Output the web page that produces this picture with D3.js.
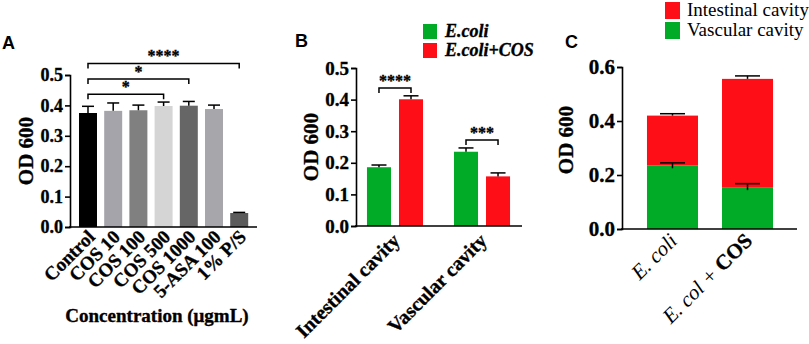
<!DOCTYPE html>
<html>
<head>
<meta charset="utf-8">
<script src="https://cdn.jsdelivr.net/npm/d3@7"></script>
<style>
  body { margin: 0; background: #fff; }
  svg { display: block; }
</style>
</head>
<body>
<div id="chart"></div>
<script>
// ---- DATA ----
// panel A
var catsA = ["Control", "COS 10", "COS 100", "COS 500", "COS 1000", "5-ASA 100", "1% P/S"]
var meanA = [0.375, 0.382, 0.384, 0.398, 0.399, 0.388, 0.046]
var errA = [0.022, 0.026, 0.017, 0.013, 0.014, 0.013, 0.002]
var ticksA = [0, 0.1, 0.2, 0.3, 0.4, 0.5]
var sigA = [
  {from: "Control", to: "1% P/S", level: 0.538, label: "****"},
  {from: "Control", to: "COS 1000", level: 0.487, label: "*"},
  {from: "Control", to: "COS 500", level: 0.437, label: "*"}
]

// panel B
var groupsB = ["Intestinal cavity", "Vascular cavity"]
var seriesB = ["E.coli", "E.coli+COS"]
var ecoliB = [0.186, 0.235]
var ecoliErrB = [0.007, 0.012]
var ecoliCosB = [0.401, 0.157]
var ecoliCosErrB = [0.011, 0.011]
var ticksB = [0, 0.1, 0.2, 0.3, 0.4, 0.5]
var sigB = [
  {group: "Intestinal cavity", level: 0.437, label: "****"},
  {group: "Vascular cavity", level: 0.272, label: "***"}
]

// panel C (stacked)
var catsC = ["E. coli", "E. col + COS"]
var vascularC = [0.236, 0.155]
var vascularErrC = [0.009, 0.013]
var intestinalC = [0.184, 0.401]   // stacked on top of vascular
var totalErrC = [0.007, 0.011]
var ticksC = [0, 0.2, 0.4, 0.6]
var layersC = ["Intestinal cavity", "Vascular cavity"]

// ---- STYLE ----
var colorsA = ["#000000", "#a5a4aa", "#808080", "#d5d5d5", "#666666", "#a7a6ab", "#5b5b5b"]
var GREEN = "#02ab27"
var RED = "#fe0e17"
var SERIF = "'Liberation Serif', 'Times New Roman', serif"
var SANS = "'Liberation Sans', Arial, sans-serif"

var W = 809, H = 344
var svg = d3.select("#chart").append("svg").attr("width", W).attr("height", H)
  .style("font-family", SERIF)

// text helper so every label gets the serif face explicitly
function txt(g, s, opts) {
  var t = g.append("text").style("font-family", SERIF).attr("fill", "#000")
  if (opts.bold) t.style("font-weight", "bold").attr("stroke", "#000").attr("stroke-width", 0.35)
  if (opts.italic) t.style("font-style", "italic")
  t.style("font-size", opts.size + "px")
  if (s != null) t.text(s)
  return t
}

function styleAxis(g, fs) {
  g.attr("font-family", null)
  g.select(".domain").attr("stroke", "#000").attr("stroke-width", 1.6)
  g.selectAll(".tick line").attr("stroke", "#000").attr("stroke-width", 1.6)
  g.selectAll(".tick text")
    .style("font-family", SERIF)
    .style("font-weight", "bold")
    .style("font-size", fs + "px")
    .attr("fill", "#000")
    .attr("stroke", "#000").attr("stroke-width", 0.35)
}

function errBar(g, cx, yTop, yBase, cap) {
  g.append("line").attr("x1", cx).attr("x2", cx).attr("y1", yBase).attr("y2", yTop)
    .attr("stroke", "#000").attr("stroke-width", 1.5)
  g.append("line").attr("x1", cx - cap / 2).attr("x2", cx + cap / 2).attr("y1", yTop).attr("y2", yTop)
    .attr("stroke", "#000").attr("stroke-width", 1.5)
}

function bracket(g, x1, x2, y, label, fs) {
  g.append("path")
    .attr("d", "M" + x1 + "," + (y + 5) + "V" + y + "H" + x2 + "V" + (y + 5))
    .attr("fill", "none").attr("stroke", "#000").attr("stroke-width", 1.5)
  txt(g, label, {bold: true, size: fs})
    .attr("x", (x1 + x2) / 2).attr("y", y - 2)
    .attr("text-anchor", "middle")
}

function yTitle(g, x, y, fs) {
  txt(g, "OD 600", {bold: true, size: fs})
    .attr("transform", "translate(" + x + "," + y + ") rotate(-90)")
    .attr("text-anchor", "middle")
}

function letter(g, s, x, y) {
  g.append("text").attr("x", x).attr("y", y)
    .style("font-family", SANS).style("font-weight", "bold").style("font-size", "18px")
    .text(s)
}

// ================= PANEL A =================
var gA = svg.append("g")
var xA = d3.scaleBand().domain(catsA).range([70, 257.2]).paddingInner(0.286).paddingOuter(0.357)
var yA = d3.scaleLinear().domain([0, 0.5]).range([227, 75])

letter(gA, "A", 2, 49)

gA.selectAll(".barA").data(catsA).enter().append("rect")
  .attr("class", "barA")
  .attr("x", d => xA(d))
  .attr("width", xA.bandwidth())
  .attr("y", (d, i) => yA(meanA[i]))
  .attr("height", (d, i) => yA(0) - yA(meanA[i]))
  .attr("fill", (d, i) => colorsA[i])

catsA.forEach(function(c, i) {
  errBar(gA, xA(c) + xA.bandwidth() / 2, yA(meanA[i] + errA[i]), yA(meanA[i]), 12)
})

gA.append("g").attr("transform", "translate(70,0)")
  .call(d3.axisLeft(yA).tickValues(ticksA).tickFormat(d3.format(".1f")).tickSizeOuter(0).tickSize(5).tickPadding(2))
  .call(g => styleAxis(g, 18))
gA.append("line").attr("x1", 69).attr("x2", 257).attr("y1", yA(0)).attr("y2", yA(0))
  .attr("stroke", "#000").attr("stroke-width", 1.6)

catsA.forEach(function(c, i) {
  var cx = xA(c) + xA.bandwidth() / 2
  txt(gA, c, {bold: true, size: 19})
    .attr("transform", "translate(" + (cx + 8) + "," + 238 + ") rotate(-45)")
    .attr("text-anchor", "end")
})

sigA.forEach(function(s) {
  bracket(gA, xA(s.from) + xA.bandwidth() / 2, xA(s.to) + xA.bandwidth() / 2, yA(s.level), s.label, 16)
})

yTitle(gA, 33, 151, 21)
txt(gA, "Concentration (μgmL)", {bold: true, size: 19})
  .attr("x", 157).attr("y", 322).attr("text-anchor", "middle")

// ================= PANEL B =================
var gB = svg.append("g")
var x0B = d3.scaleBand().domain(groupsB).range([356, 521]).paddingInner(0.356).paddingOuter(0.126)
var x1B = d3.scaleBand().domain(seriesB).range([0, x0B.bandwidth()]).paddingInner(0.25)
var yB = d3.scaleLinear().domain([0, 0.5]).range([226, 68])
var colorB = d3.scaleOrdinal().domain(seriesB).range([GREEN, RED])

letter(gB, "B", 295, 47)

var rowsB = groupsB.map((g, i) => ({group: g, vals: [
  {s: seriesB[0], v: ecoliB[i], e: ecoliErrB[i]},
  {s: seriesB[1], v: ecoliCosB[i], e: ecoliCosErrB[i]}
]}))

rowsB.forEach(function(r) {
  r.vals.forEach(function(d) {
    var x = x0B(r.group) + x1B(d.s)
    gB.append("rect").attr("x", x).attr("width", x1B.bandwidth())
      .attr("y", yB(d.v)).attr("height", yB(0) - yB(d.v)).attr("fill", colorB(d.s))
    errBar(gB, x + x1B.bandwidth() / 2, yB(d.v + d.e), yB(d.v), 15)
  })
})

gB.append("g").attr("transform", "translate(356,0)")
  .call(d3.axisLeft(yB).tickValues(ticksB).tickFormat(d3.format(".1f")).tickSizeOuter(0).tickSize(5).tickPadding(2))
  .call(g => styleAxis(g, 19))
gB.append("line").attr("x1", 355).attr("x2", 522).attr("y1", yB(0)).attr("y2", yB(0))
  .attr("stroke", "#000").attr("stroke-width", 1.6)

groupsB.forEach(function(g) {
  var cx = x0B(g) + x0B.bandwidth() / 2
  txt(gB, g, {bold: true, size: 20})
    .attr("transform", "translate(" + (cx + 6) + "," + 242 + ") rotate(-45)")
    .attr("text-anchor", "end")
})

sigB.forEach(function(s) {
  var a = x0B(s.group) + x1B(seriesB[0]) + x1B.bandwidth() / 2
  var b = x0B(s.group) + x1B(seriesB[1]) + x1B.bandwidth() / 2
  bracket(gB, a, b, yB(s.level), s.label, 16)
})

yTitle(gB, 318, 147, 21)

seriesB.forEach(function(s, i) {
  var y = 24 + i * 19
  gB.append("rect").attr("x", 423).attr("y", y).attr("width", 14).attr("height", 15).attr("fill", colorB(s))
  txt(gB, s, {bold: true, italic: true, size: 18}).attr("x", 445).attr("y", y + 13)
})

// ================= PANEL C =================
var gC = svg.append("g")
var xC = d3.scaleBand().domain(catsC).range([622, 798]).paddingInner(0.32).paddingOuter(0.333)
var yC = d3.scaleLinear().domain([0, 0.6]).range([229, 67])

letter(gC, "C", 565, 48)

var stackC = d3.stack().keys(["vascular", "intestinal"])(
  catsC.map((c, i) => ({cat: c, vascular: vascularC[i], intestinal: intestinalC[i]})))
var colorC = {vascular: GREEN, intestinal: RED}

stackC.forEach(function(layer) {
  gC.selectAll(".c-" + layer.key).data(layer).enter().append("rect")
    .attr("x", d => xC(d.data.cat))
    .attr("width", xC.bandwidth())
    .attr("y", d => yC(d[1]))
    .attr("height", d => yC(d[0]) - yC(d[1]))
    .attr("fill", colorC[layer.key])
})

catsC.forEach(function(c, i) {
  var cx = xC(c) + xC.bandwidth() / 2
  var tot = vascularC[i] + intestinalC[i]
  errBar(gC, cx, yC(vascularC[i] + vascularErrC[i]), yC(vascularC[i]) + 3, 25)
  errBar(gC, cx, yC(tot + totalErrC[i]), yC(tot), 25)
})

gC.append("g").attr("transform", "translate(622,0)")
  .call(d3.axisLeft(yC).tickValues(ticksC).tickFormat(d3.format(".1f")).tickSizeOuter(0).tickSize(5).tickPadding(2))
  .call(g => styleAxis(g, 21))
gC.append("line").attr("x1", 621).attr("x2", 797).attr("y1", yC(0)).attr("y2", yC(0))
  .attr("stroke", "#000").attr("stroke-width", 1.6)

// category labels
var cx0 = xC(catsC[0]) + xC.bandwidth() / 2
txt(gC, catsC[0], {italic: true, size: 21})
  .attr("transform", "translate(" + (cx0 + 6) + "," + 242 + ") rotate(-45)")
  .attr("text-anchor", "end")
var cx1 = xC(catsC[1]) + xC.bandwidth() / 2
var t1 = txt(gC, null, {size: 21})
  .attr("transform", "translate(" + (cx1 + 6) + "," + 242 + ") rotate(-45)")
  .attr("text-anchor", "end")
t1.append("tspan").style("font-style", "italic").text("E. col + ")
t1.append("tspan").style("font-weight", "bold").attr("stroke", "#000").attr("stroke-width", 0.35).text("COS")

yTitle(gC, 573, 140, 21)

layersC.forEach(function(s, i) {
  var y = 2 + i * 20
  gC.append("rect").attr("x", 665).attr("y", y).attr("width", 15).attr("height", 17)
    .attr("fill", i === 0 ? RED : GREEN)
  txt(gC, s, {size: 19}).attr("x", 687).attr("y", y + 14)
})
</script>
</body>
</html>
